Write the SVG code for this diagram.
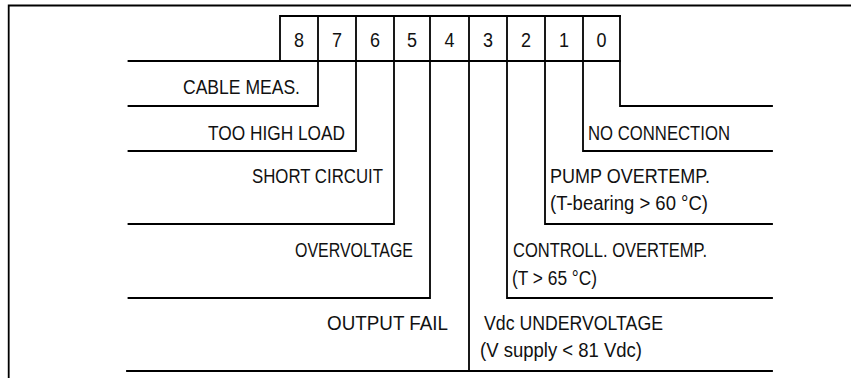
<svg xmlns="http://www.w3.org/2000/svg" width="851" height="378" viewBox="0 0 851 378">
  <style>
    .ln { fill: none; stroke: #000; stroke-width: 1.8; stroke-linecap: square; stroke-linejoin: miter; }
    .t { font-family: "Liberation Sans Narrow", "Liberation Sans", Arial, sans-serif; font-size: 20.5px; fill: #111; }
    .d { text-anchor: middle; }
  </style>
  <rect width="851" height="378" fill="#fff"/>
  <g id="frame">
    <polyline class="ln" points="8.7,378 8.7,5.5 851,5.5"/>
  </g>
  <g id="register">
    <polyline class="ln" points="280,61 280,16 620,16"/>
    <line class="ln" x1="128.5" y1="61" x2="620" y2="61"/>
    <text class="t d" x="299" y="47" textLength="10" lengthAdjust="spacingAndGlyphs">8</text>
    <text class="t d" x="337" y="47" textLength="10" lengthAdjust="spacingAndGlyphs">7</text>
    <text class="t d" x="375" y="47" textLength="10" lengthAdjust="spacingAndGlyphs">6</text>
    <text class="t d" x="412" y="47" textLength="10" lengthAdjust="spacingAndGlyphs">5</text>
    <text class="t d" x="449.5" y="47" textLength="10" lengthAdjust="spacingAndGlyphs">4</text>
    <text class="t d" x="488" y="47" textLength="10" lengthAdjust="spacingAndGlyphs">3</text>
    <text class="t d" x="526" y="47" textLength="10" lengthAdjust="spacingAndGlyphs">2</text>
    <text class="t d" x="564" y="47" textLength="10" lengthAdjust="spacingAndGlyphs">1</text>
    <text class="t d" x="601.5" y="47" textLength="10" lengthAdjust="spacingAndGlyphs">0</text>
  </g>
  <g id="connectors">
    <polyline class="ln" points="318,16 318,106 128.5,106"/>
    <polyline class="ln" points="356,16 356,151 128.5,151"/>
    <polyline class="ln" points="394,16 394,224 128.5,224"/>
    <polyline class="ln" points="430,16 430,298 128.5,298"/>
    <line class="ln" x1="469" y1="16" x2="469" y2="371"/>
    <line class="ln" x1="127" y1="371" x2="772" y2="371"/>
    <polyline class="ln" points="507,16 507,298 772,298"/>
    <polyline class="ln" points="545,16 545,224 772,224"/>
    <polyline class="ln" points="583,16 583,151 772,151"/>
    <polyline class="ln" points="620,16 620,106 772,106"/>
  </g>
  <g id="bit8">
    <text class="t" x="183" y="94" textLength="117" lengthAdjust="spacingAndGlyphs">CABLE MEAS.</text>
  </g>
  <g id="bit7">
    <text class="t" x="208" y="140" textLength="137" lengthAdjust="spacingAndGlyphs">TOO HIGH LOAD</text>
  </g>
  <g id="bit6">
    <text class="t" x="252" y="183" textLength="131" lengthAdjust="spacingAndGlyphs">SHORT CIRCUIT</text>
  </g>
  <g id="bit5">
    <text class="t" x="295" y="257" textLength="118" lengthAdjust="spacingAndGlyphs">OVERVOLTAGE</text>
  </g>
  <g id="bit4">
    <text class="t" x="327" y="330" textLength="121" lengthAdjust="spacingAndGlyphs">OUTPUT FAIL</text>
  </g>
  <g id="bit3">
    <text class="t" x="484" y="330" textLength="179" lengthAdjust="spacingAndGlyphs">Vdc UNDERVOLTAGE</text>
    <text class="t" x="480" y="357" textLength="162" lengthAdjust="spacingAndGlyphs">(V supply &lt; 81 Vdc)</text>
  </g>
  <g id="bit2">
    <text class="t" x="513" y="257" textLength="194" lengthAdjust="spacingAndGlyphs">CONTROLL. OVERTEMP.</text>
    <text class="t" x="512" y="285" textLength="85" lengthAdjust="spacingAndGlyphs">(T &gt; 65 °C)</text>
  </g>
  <g id="bit1">
    <text class="t" x="550" y="183" textLength="160" lengthAdjust="spacingAndGlyphs">PUMP OVERTEMP.</text>
    <text class="t" x="550" y="210" textLength="158" lengthAdjust="spacingAndGlyphs">(T-bearing &gt; 60 °C)</text>
  </g>
  <g id="bit0">
    <text class="t" x="588" y="140" textLength="142" lengthAdjust="spacingAndGlyphs">NO CONNECTION</text>
  </g>
</svg>
